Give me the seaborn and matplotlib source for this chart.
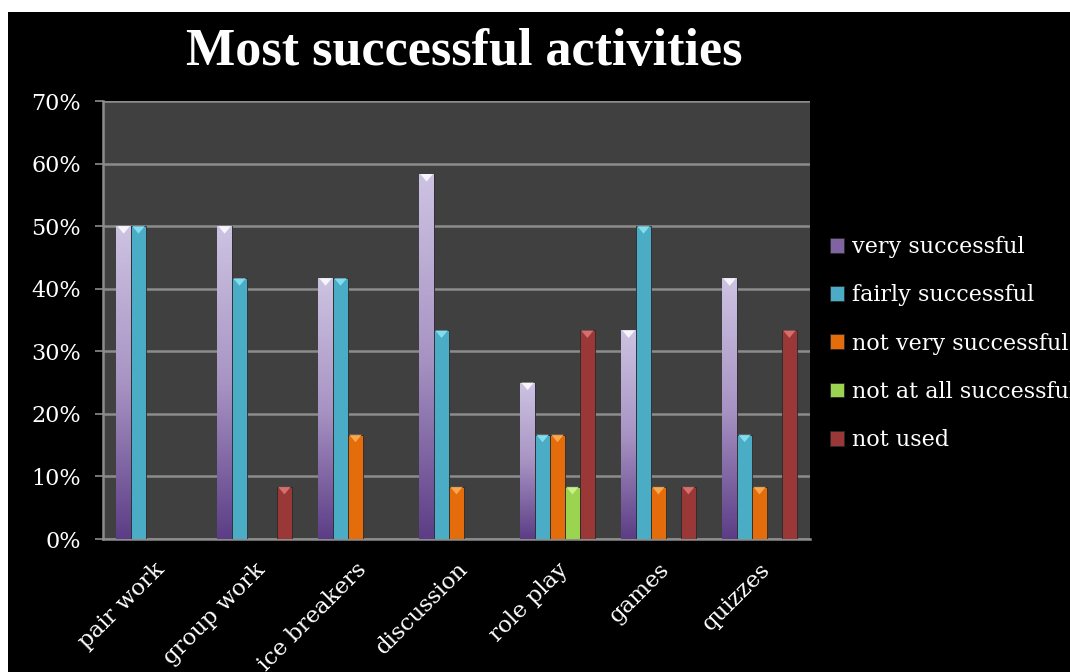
import numpy as np
import pandas as pd
import matplotlib
matplotlib.use("Agg")
import matplotlib.pyplot as plt
from matplotlib.patches import Rectangle, Polygon
from matplotlib.colors import LinearSegmentedColormap
from matplotlib.ticker import PercentFormatter
import seaborn as sns

# data (percent)
activities = ['pair work', 'group work', 'ice breakers', 'discussion',
              'role play', 'games', 'quizzes']
ratings = ['very successful', 'fairly successful', 'not very successful',
           'not at all successful', 'not used']
very_successful = [50, 50, 41.67, 58.33, 25, 33.33, 41.67]
fairly_successful = [50, 41.67, 41.67, 33.33, 16.67, 50, 16.67]
not_very_successful = [0, 0, 16.67, 8.33, 16.67, 8.33, 8.33]
not_at_all_successful = [0, 0, 0, 0, 8.33, 0, 0]
not_used = [0, 8.33, 0, 0, 33.33, 8.33, 33.33]

colors = ['#8064a2', '#4bacc6', '#e46c0a', '#9bd550', '#993836']
tops = ['#ffffff', '#8ee6f7', '#ffb35c', '#d4f59a', '#e07878']

series = [very_successful, fairly_successful, not_very_successful,
          not_at_all_successful, not_used]
df = pd.DataFrame({
    'activity': np.repeat([activities], len(ratings), axis=0).ravel(),
    'rating': np.repeat(ratings, len(activities)),
    'value': np.concatenate(series),
})

sns.set_style('white')
plt.rcParams['font.family'] = ['DejaVu Serif']

fig = plt.figure(figsize=(10.7, 6.72), dpi=100, facecolor='white')
# black chart area with a thin white margin top/left like the screenshot
fig.patches.append(Rectangle((8 / 1070, 0), 1, 1 - 12 / 672, transform=fig.transFigure,
                             facecolor='black', edgecolor='none', zorder=-10))
ax = fig.add_axes([103 / 1070, 1 - 539 / 672, 707 / 1070, 438 / 672])
ax.set_facecolor('#404040')

sns.barplot(data=df, x='activity', y='value', hue='rating', order=activities,
            hue_order=ratings, palette=colors, saturation=1, width=0.74,
            edgecolor='#2a2a2a', linewidth=0.6, ax=ax, zorder=3)

# purple series gets the vertical gradient, every bar gets a bevel triangle on top
purple = LinearSegmentedColormap.from_list('p', ['#5c3d86', '#a894c4', '#cdc3e2'])
grad = np.linspace(0, 1, 256).reshape(-1, 1)
for i, cont in enumerate(ax.containers):
    for bar in cont:
        h = bar.get_height()
        if h <= 0:
            continue
        x0 = bar.get_x()
        w = bar.get_width()
        if i == 0:
            im = ax.imshow(grad, cmap=purple, origin='lower', aspect='auto',
                           extent=[x0, x0 + w, 0, h], zorder=3.5)
            im.set_clip_path(bar)
        tri = Polygon([[x0 + w * 0.08, h], [x0 + w * 0.92, h], [x0 + w / 2, h - 1.2]],
                      closed=True, facecolor=tops[i], edgecolor='none', alpha=0.85,
                      zorder=4)
        ax.add_patch(tri)
ax.set_xlim(-0.5, len(activities) - 0.5)
ax.set_ylim(0, 70)

ax.set_yticks(np.arange(0, 71, 10))
ax.yaxis.set_major_formatter(PercentFormatter(decimals=0))
ax.grid(axis='y', color='#8c8c8c', linewidth=1.8, zorder=0)
ax.set_axisbelow(True)

ax.set_xticks(np.arange(len(activities)))
ax.set_xticklabels(activities, rotation=45, ha='right', rotation_mode='anchor')
ax.set_xticks(np.arange(len(activities) + 1) - 0.5, minor=True)
ax.tick_params(axis='x', which='major', length=0, pad=14, labelsize=16.5, labelcolor='white')
ax.tick_params(axis='x', which='minor', length=6, width=1.2, color='#8c8c8c', direction='out')
ax.tick_params(axis='y', length=6, width=1.2, color='#8c8c8c', direction='out',
               labelsize=16, labelcolor='white', pad=10)
ax.tick_params(left=True, bottom=True)

for s in ['top', 'right']:
    ax.spines[s].set_visible(False)
for s in ['left', 'bottom']:
    ax.spines[s].set_color('#8c8c8c')
    ax.spines[s].set_linewidth(1.8)

ax.set_xlabel('')
ax.set_ylabel('')

handles, labels = ax.get_legend_handles_labels()
ax.legend(handles, labels, loc='center left', bbox_to_anchor=((830 - 103) / 707, 0.446),
          frameon=False, fontsize=16, labelcolor='white', handlelength=0.65,
          handleheight=0.65, handletextpad=0.36, labelspacing=1.18, borderaxespad=0,
          borderpad=0)

fig.text(464 / 1070, 1 - 52 / 672, 'Most successful activities', color='white',
         fontsize=37.5, fontweight='bold', ha='center', va='center',
         family='Liberation Serif')

fig.savefig('out.png', dpi=100, facecolor=fig.get_facecolor())
